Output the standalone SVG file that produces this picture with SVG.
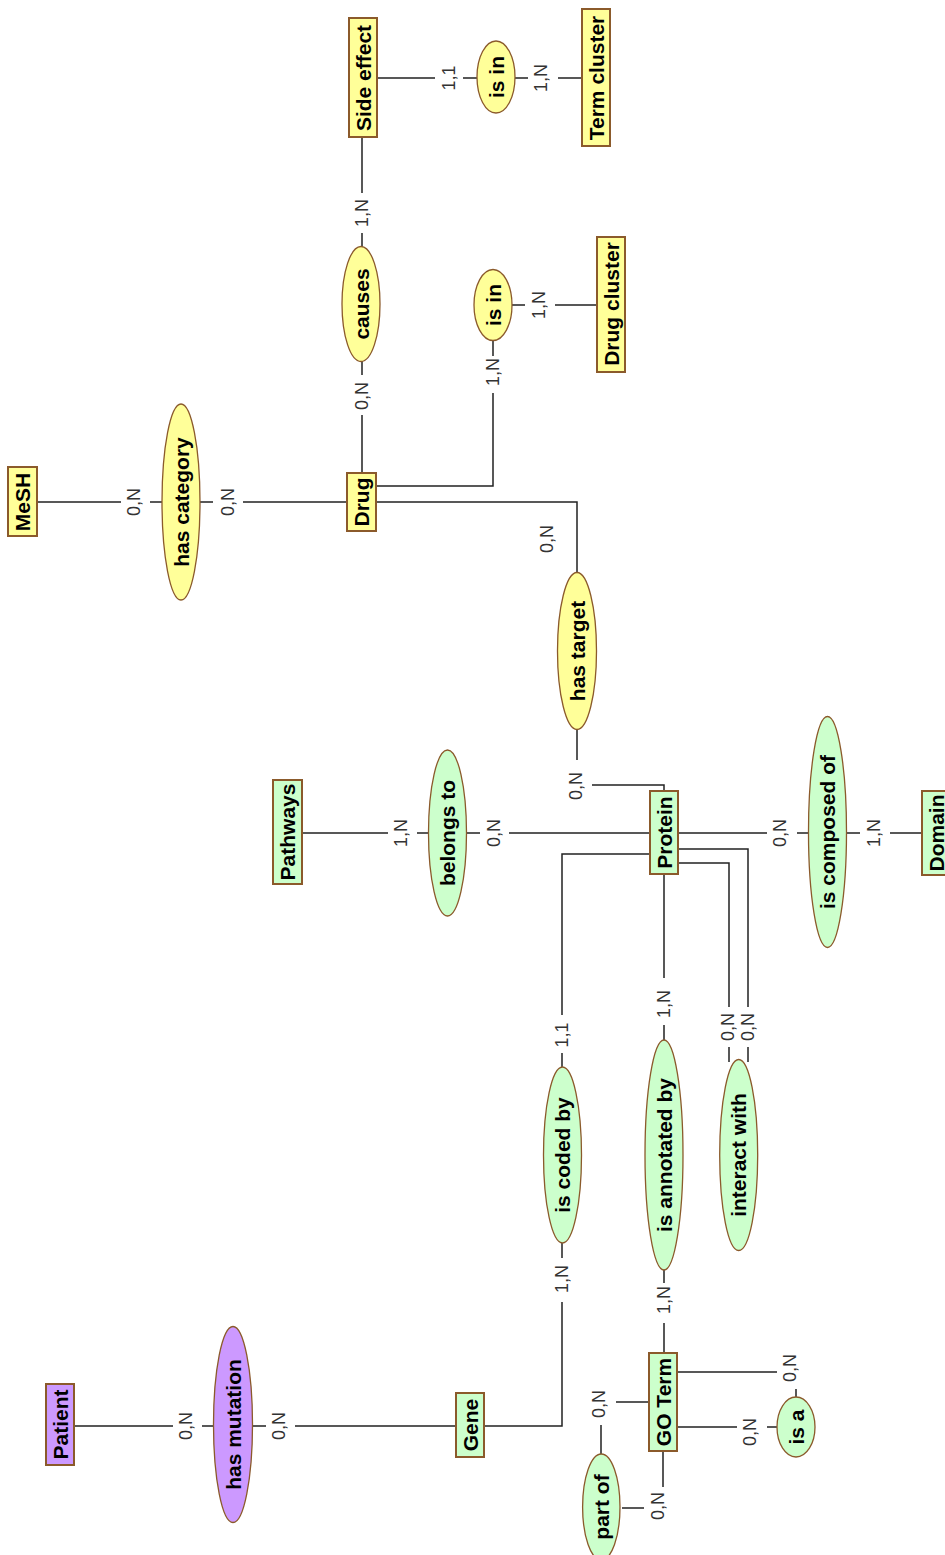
<svg xmlns="http://www.w3.org/2000/svg" width="945" height="1555" viewBox="0 0 945 1555">
<style>
.y{fill:#FFFF99}
.g{fill:#CCFFCC}
.p{fill:#CC99FF}
.ent{stroke:#8B5A2B;stroke-width:2}
.rel{stroke:#8B5A2B;stroke-width:1.3}
.t{font-family:"Liberation Sans",Arial,sans-serif;font-weight:bold;font-size:21px;fill:#000;text-anchor:middle;dominant-baseline:central}
.c{font-family:"Liberation Sans",Arial,sans-serif;font-size:18px;fill:#333;text-anchor:middle;dominant-baseline:central}
.ln{fill:none;stroke:#222;stroke-width:1.5}
</style>
<rect width="945" height="1555" fill="#fff"/>
<g id="connectors">
<path class="ln" d="M377,78H435M463,78H477M515,78H528M558,78H582"/>
<path class="ln" d="M362,137V193M362,233V247"/>
<path class="ln" d="M362,361V375M362,415V473"/>
<path class="ln" d="M376,486H493V393M493,356V340"/>
<path class="ln" d="M512,305H525M555,305H597"/>
<path class="ln" d="M376,502H577V573"/>
<path class="ln" d="M577,730V760M592,785H664V791"/>
<path class="ln" d="M37,502H121M150,502H162M200,502H213M243,502H347"/>
<path class="ln" d="M302,833H388M417,833H428M467,833H480M509,833H650"/>
<path class="ln" d="M678,833H767M797,833H808M847,833H860M890,833H922"/>
<path class="ln" d="M650,854H562V1015M562,1053V1067M562,1243V1258M562,1302V1426H484"/>
<path class="ln" d="M664,874V978M664,1025V1040M664,1270V1283M664,1323V1353"/>
<path class="ln" d="M678,849H748V1007M748,1047V1062M678,863H729V1007M729,1047V1062"/>
<path class="ln" d="M456,1426H295M266,1426H252M213,1426H202M173,1426H74"/>
<path class="ln" d="M677,1427H737M767,1427H777M677,1372H777M796,1389V1397"/>
<path class="ln" d="M649,1402H616M601,1425V1454M663,1451V1487M644,1508H622"/>
<g class="cards">
<text class="c" transform="translate(449,78) rotate(-90)">1,1</text>
<text class="c" transform="translate(541,78) rotate(-90)">1,N</text>
<text class="c" transform="translate(362,213) rotate(-90)">1,N</text>
<text class="c" transform="translate(362,396) rotate(-90)">0,N</text>
<text class="c" transform="translate(493,372) rotate(-90)">1,N</text>
<text class="c" transform="translate(539,305) rotate(-90)">1,N</text>
<text class="c" transform="translate(547,539) rotate(-90)">0,N</text>
<text class="c" transform="translate(576,786) rotate(-90)">0,N</text>
<text class="c" transform="translate(134,502) rotate(-90)">0,N</text>
<text class="c" transform="translate(228,502) rotate(-90)">0,N</text>
<text class="c" transform="translate(401,833) rotate(-90)">1,N</text>
<text class="c" transform="translate(494,833) rotate(-90)">0,N</text>
<text class="c" transform="translate(780,833) rotate(-90)">0,N</text>
<text class="c" transform="translate(874,833) rotate(-90)">1,N</text>
<text class="c" transform="translate(562,1035) rotate(-90)">1,1</text>
<text class="c" transform="translate(562,1279) rotate(-90)">1,N</text>
<text class="c" transform="translate(664,1004) rotate(-90)">1,N</text>
<text class="c" transform="translate(664,1300) rotate(-90)">1,N</text>
<text class="c" transform="translate(728,1027) rotate(-90)">0,N</text>
<text class="c" transform="translate(748,1027) rotate(-90)">0,N</text>
<text class="c" transform="translate(279,1426) rotate(-90)">0,N</text>
<text class="c" transform="translate(186,1426) rotate(-90)">0,N</text>
<text class="c" transform="translate(750,1432) rotate(-90)">0,N</text>
<text class="c" transform="translate(790,1368) rotate(-90)">0,N</text>
<text class="c" transform="translate(599,1404) rotate(-90)">0,N</text>
<text class="c" transform="translate(658,1506) rotate(-90)">0,N</text>
</g>
</g>
<g id="side-effect"><rect class="y ent" x="349" y="18" width="28" height="119"/><text class="t" transform="translate(363,78) rotate(-90)">Side effect</text></g>
<g id="term-cluster"><rect class="y ent" x="582" y="9" width="28" height="137"/><text class="t" transform="translate(596,78) rotate(-90)">Term cluster</text></g>
<g id="is-in-1"><ellipse class="y rel" cx="496" cy="77" rx="19" ry="36"/><text class="t" transform="translate(496,77) rotate(-90)">is in</text></g>
<g id="causes"><ellipse class="y rel" cx="361" cy="304" rx="19" ry="57.5"/><text class="t" transform="translate(361,304) rotate(-90)">causes</text></g>
<g id="is-in-2"><ellipse class="y rel" cx="493" cy="305" rx="19" ry="35.5"/><text class="t" transform="translate(493,305) rotate(-90)">is in</text></g>
<g id="drug-cluster"><rect class="y ent" x="597" y="237" width="28" height="135"/><text class="t" transform="translate(611,304) rotate(-90)">Drug cluster</text></g>
<g id="drug"><rect class="y ent" x="347" y="473" width="29" height="58"/><text class="t" transform="translate(361.5,502) rotate(-90)">Drug</text></g>
<g id="mesh"><rect class="y ent" x="8" y="467" width="29" height="69"/><text class="t" transform="translate(22.5,502) rotate(-90)">MeSH</text></g>
<g id="has-category"><ellipse class="y rel" cx="181" cy="502" rx="19" ry="98"/><text class="t" transform="translate(181,502) rotate(-90)">has category</text></g>
<g id="has-target"><ellipse class="y rel" cx="577" cy="651" rx="19.5" ry="78.5"/><text class="t" transform="translate(577,651) rotate(-90)">has target</text></g>
<g id="pathways"><rect class="g ent" x="273" y="780" width="29" height="104"/><text class="t" transform="translate(287.5,832) rotate(-90)">Pathways</text></g>
<g id="belongs-to"><ellipse class="g rel" cx="447.5" cy="833" rx="19" ry="83"/><text class="t" transform="translate(447.5,833) rotate(-90)">belongs to</text></g>
<g id="protein"><rect class="g ent" x="650" y="791" width="28" height="83"/><text class="t" transform="translate(664,832.5) rotate(-90)">Protein</text></g>
<g id="is-composed-of"><ellipse class="g rel" cx="827.5" cy="832" rx="19" ry="115.5"/><text class="t" transform="translate(827.5,832) rotate(-90)">is composed of</text></g>
<g id="domain"><rect class="g ent" x="922" y="791" width="29" height="84"/><text class="t" transform="translate(936.5,833) rotate(-90)">Domain</text></g>
<g id="is-coded-by"><ellipse class="g rel" cx="562.5" cy="1155" rx="19" ry="88"/><text class="t" transform="translate(562.5,1155) rotate(-90)">is coded by</text></g>
<g id="is-annotated-by"><ellipse class="g rel" cx="664" cy="1155" rx="19" ry="115"/><text class="t" transform="translate(664,1155) rotate(-90)">is annotated by</text></g>
<g id="interact-with"><ellipse class="g rel" cx="738.7" cy="1155" rx="19" ry="95.5"/><text class="t" transform="translate(738.7,1155) rotate(-90)">interact with</text></g>
<g id="gene"><rect class="g ent" x="456" y="1393" width="28" height="64"/><text class="t" transform="translate(470,1425) rotate(-90)">Gene</text></g>
<g id="go-term"><rect class="g ent" x="649" y="1353" width="28" height="98"/><text class="t" transform="translate(663,1402) rotate(-90)">GO Term</text></g>
<g id="is-a"><ellipse class="g rel" cx="796" cy="1427" rx="19" ry="30"/><text class="t" transform="translate(796,1427) rotate(-90)">is a</text></g>
<g id="part-of"><ellipse class="g rel" cx="601.3" cy="1507" rx="18.7" ry="53"/><text class="t" transform="translate(601.3,1507) rotate(-90)">part of</text></g>
<g id="patient"><rect class="p ent" x="46" y="1384" width="28" height="81"/><text class="t" transform="translate(60,1424.5) rotate(-90)">Patient</text></g>
<g id="has-mutation"><ellipse class="p rel" cx="233" cy="1424.5" rx="19.5" ry="98"/><text class="t" transform="translate(233,1424.5) rotate(-90)">has mutation</text></g>
</svg>
